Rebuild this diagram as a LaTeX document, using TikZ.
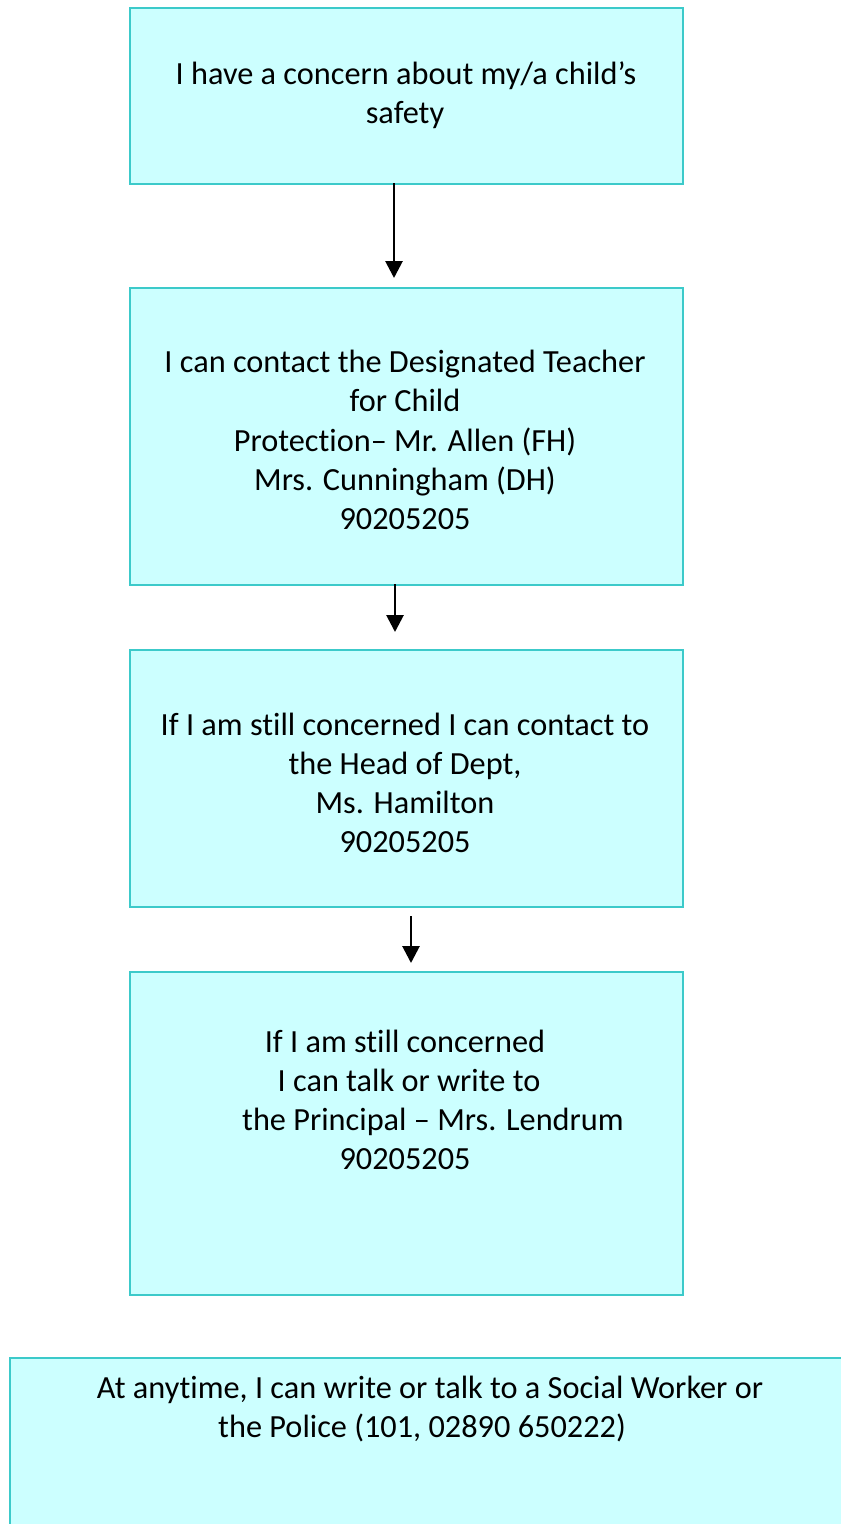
\documentclass[tikz,border=0pt]{standalone}
\usepackage{fontspec}
\setmainfont[Ligatures=NoCommon]{Carlito}
\usetikzlibrary{arrows.meta}
\definecolor{boxfill}{HTML}{CCFFFF}
\definecolor{boxline}{HTML}{3CCACA}
\begin{document}
\begin{tikzpicture}[x=1pt,y=-1pt,
  flowbox/.style={draw=boxline,fill=boxfill,line width=2pt,anchor=north west,inner sep=0pt},
  txt/.style={anchor=base,inner sep=0pt,font=\fontsize{32.3}{39}\selectfont},
  arr/.style={line width=2.8pt,-{Triangle[width=17pt,length=17pt]}}]
\useasboundingbox (0,0) rectangle (841,1524);
\clip (0,0) rectangle (841,1524);
% boxes
\node[flowbox,minimum width=553pt,minimum height=176pt] (b1) at (129,7) {};
\node[flowbox,minimum width=553pt,minimum height=297pt] (b2) at (129,287) {};
\node[flowbox,minimum width=553pt,minimum height=257pt] (b3) at (129,649) {};
\node[flowbox,minimum width=553pt,minimum height=323pt] (b4) at (129,971) {};
\node[flowbox,minimum width=860pt,minimum height=200pt] (b5) at (9,1357) {};
% texts
\node[txt] (t1a) at (406,84) {I have a concern about my/a child’s};
\node[txt] (t1b) at (405,123) {safety};
\node[txt] (t2a) at (405,372) {I can contact the Designated Teacher};
\node[txt] (t2b) at (405,411) {for Child};
\node[txt] (t2c) at (405,451) {Protection– Mr. Allen (FH)};
\node[txt] (t2d) at (405,490) {Mrs. Cunningham (DH)};
\node[txt] (t2e) at (405,529) {90205205};
\node[txt] (t3a) at (405,735) {If I am still concerned I can contact to};
\node[txt] (t3b) at (405,774) {the Head of Dept,};
\node[txt] (t3c) at (405,813) {Ms. Hamilton};
\node[txt] (t3d) at (405,852) {90205205};
\node[txt] (t4a) at (405,1052) {If I am still concerned};
\node[txt] (t4b) at (409,1091) {I can talk or write to};
\node[txt] (t4c) at (433,1130) {the Principal – Mrs. Lendrum};
\node[txt] (t4d) at (405,1169) {90205205};
\node[txt] (t5a) at (430,1398) {At anytime, I can write or talk to a Social Worker or};
\node[txt] (t5b) at (422,1437) {the Police (101, 02890 650222)};
% arrows
\coordinate (a1s) at (394,183);
\coordinate (a1e) at (394,278);
\coordinate (a2s) at (395,584);
\coordinate (a2e) at (395,632);
\coordinate (a3s) at (411,916);
\coordinate (a3e) at (411,963);
\draw[arr] (a1s) -- (a1e);
\draw[arr] (a2s) -- (a2e);
\draw[arr] (a3s) -- (a3e);
\end{tikzpicture}
\end{document}
